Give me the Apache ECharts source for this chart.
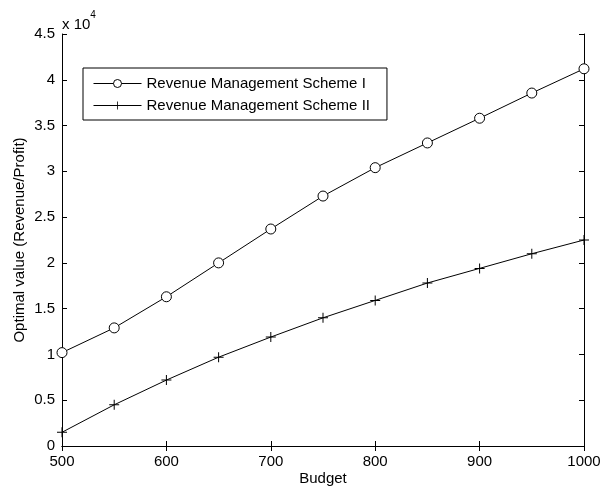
<!DOCTYPE html>
<html>
<head>
<meta charset="utf-8">
<script src="https://cdn.jsdelivr.net/npm/echarts@6/dist/echarts.min.js"></script>
<style>
  html, body { margin: 0; padding: 0; background: #fff; }
  #chart { width: 604px; height: 492px; }
</style>
</head>
<body>
<div id="chart"></div>
<script>
// Budget levels on the x axis
const budgets = [500, 550, 600, 650, 700, 750, 800, 850, 900, 950, 1000];
// Optimal value for each revenue management scheme
const schemeI = [10200, 12900, 16300, 20000, 23700, 27300, 30400, 33100, 35800, 38550, 41200];
const schemeII = [1500, 4500, 7200, 9700, 11900, 14000, 15900, 17800, 19400, 21000, 22500];
const seriesNames = ['Revenue Management Scheme I', 'Revenue Management Scheme II'];

const font = 'Liberation Sans, Arial, sans-serif';
const fs = 15;
const plusSymbol = 'path://M0,4.5H10V5.5H0Z M4.5,0H5.5V10H4.5Z';

const chart = echarts.init(document.getElementById('chart'), null, { renderer: 'canvas' });

const axisCommon = {
  axisLine: { show: true, lineStyle: { color: '#000', width: 1 } },
  axisTick: { show: true, inside: true, length: 5, lineStyle: { color: '#000' } },
  splitLine: { show: false }
};

chart.setOption({
  animation: false,
  backgroundColor: '#fff',
  grid: { left: 62, right: 20, top: 34, bottom: 46 },
  legend: {
    orient: 'vertical',
    left: 83,
    top: 68,
    padding: [8, 17, 7, 10],
    itemGap: 7,
    itemWidth: 48,
    itemHeight: 10,
    borderColor: '#000',
    borderWidth: 1,
    borderRadius: 0,
    backgroundColor: '#fff',
    lineStyle: { width: 1 },
    itemStyle: { borderWidth: 1 },
    textStyle: { fontFamily: font, fontSize: fs, color: '#000' },
    data: seriesNames
  },
  xAxis: [
    Object.assign({
      type: 'value', min: 500, max: 1000, interval: 100,
      name: 'Budget', nameLocation: 'middle', nameGap: 25,
      nameMoveOverlap: false,
      nameTextStyle: { fontFamily: font, fontSize: fs, color: '#000' },
      axisLabel: { fontFamily: font, fontSize: fs, color: '#000', margin: 8, formatter: v => String(v) }
    }, axisCommon),
    Object.assign({
      type: 'value', min: 500, max: 1000, interval: 100, position: 'top',
      axisLabel: { show: false }
    }, axisCommon)
  ],
  yAxis: [
    Object.assign({
      type: 'value', min: 0, max: 45000, interval: 5000,
      name: 'Optimal value (Revenue/Profit)', nameLocation: 'middle', nameGap: 35,
      nameMoveOverlap: false,
      nameTextStyle: { fontFamily: font, fontSize: fs, color: '#000' },
      axisLabel: {
        fontFamily: font, fontSize: fs, color: '#000', margin: 7,
        formatter: v => String(v / 10000)
      }
    }, axisCommon),
    Object.assign({
      type: 'value', min: 0, max: 45000, interval: 5000, position: 'right',
      axisLabel: { show: false }
    }, axisCommon)
  ],
  graphic: [{
    type: 'text',
    left: 62,
    top: 10,
    style: {
      text: '{b|x 10}{s|4}',
      rich: {
        b: { fontFamily: font, fontSize: fs, fill: '#000', padding: [7, 0, 0, 0] },
        s: { fontFamily: font, fontSize: 10, fill: '#000', verticalAlign: 'top' }
      }
    }
  }],
  series: [
    {
      name: seriesNames[0],
      type: 'line',
      data: budgets.map((b, i) => [b, schemeI[i]]),
      symbol: 'circle',
      symbolSize: 10,
      lineStyle: { color: '#000', width: 1 },
      itemStyle: { color: '#fff', borderColor: '#000', borderWidth: 1 },
      showAllSymbol: true
    },
    {
      name: seriesNames[1],
      type: 'line',
      data: budgets.map((b, i) => [b, schemeII[i]]),
      symbol: plusSymbol,
      symbolSize: 10,
      lineStyle: { color: '#000', width: 1 },
      itemStyle: { color: '#000', borderWidth: 0 },
      showAllSymbol: true
    }
  ]
});
</script>
</body>
</html>
